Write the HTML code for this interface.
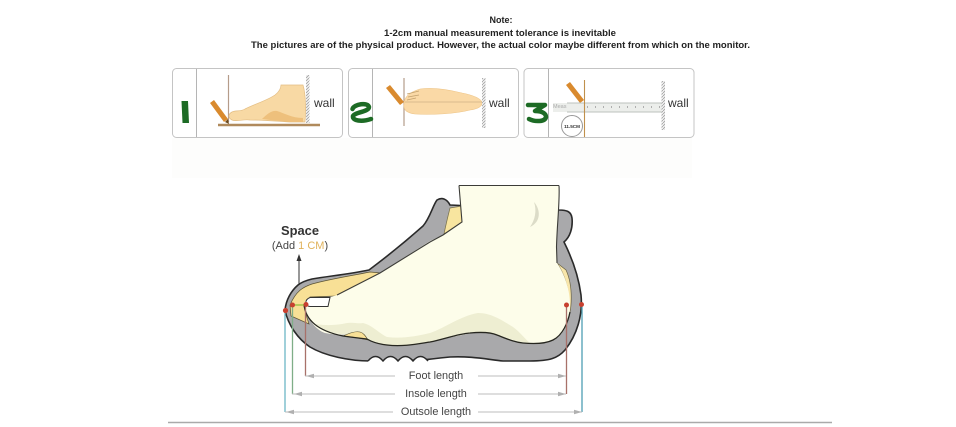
<!DOCTYPE html>
<html><head><meta charset="utf-8"><style>
html,body{margin:0;padding:0;background:#fff;width:956px;height:427px;overflow:hidden}
svg{display:block;filter:blur(.35px)}
text{font-family:"Liberation Sans",sans-serif}
</style></head><body>
<svg width="956" height="427" viewBox="0 0 956 427" xmlns="http://www.w3.org/2000/svg">
<defs>
<pattern id="h" width="3" height="3" patternUnits="userSpaceOnUse">
<rect width="3" height="3" fill="#efefef"/>
<path d="M0 3L3 0" stroke="#999" stroke-width=".7"/>
</pattern>
</defs>
<rect x="172" y="138" width="520" height="40" fill="#fdfdfc"/>
<g font-weight="bold" font-size="9.3" fill="#222" text-anchor="middle">
<text x="501" y="23" textLength="23" lengthAdjust="spacingAndGlyphs">Note:</text>
<text x="500" y="36" textLength="232" lengthAdjust="spacingAndGlyphs">1-2cm manual measurement tolerance is inevitable</text>
<text x="500.5" y="48" textLength="499" lengthAdjust="spacingAndGlyphs">The pictures are of the physical product. However, the actual color maybe different from which on the monitor.</text>
</g>

<!-- panels -->
<g fill="#fff" stroke="#c4c4c4" stroke-width="1">
<rect x="172.5" y="68.5" width="170" height="69" rx="4"/>
<rect x="348.5" y="68.5" width="170" height="69" rx="4"/>
<rect x="524" y="68.5" width="170" height="69" rx="4"/>
</g>
<g stroke="#b5b5b5"><path d="M196.5 69V137M372.5 69V137M548.5 69V137"/></g>

<!-- panel 1 -->
<path d="M181.500 101h6.500l1 22h-6.500z" fill="#1d6b25"/>
<path d="M228.500 75V122" stroke="#b59c8a" stroke-width="1.2"/>
<path d="M218 125H320" stroke="#b08a5c" stroke-width="2.6"/>
<path d="M210 103l4-3 14 19-4 3z" fill="#d98a2e"/>
<path d="M225 122l3-3 1 5z" fill="#6b4a1e"/>
<path d="M281 85H303C306 95 306 112 305 122H290C275 121 262 120 250 120C243 119 236 122 232 120C228 118 228 114 232 112C236 110 240 112 245 109C255 104 268 100 275 95C279 92 281 88 281 85z" fill="#f8d9a4" stroke="#e3bd83" stroke-width=".7"/>
<path d="M262 119C267 114 272 110 277 111C284 113 292 118 303 118V122H290C280 121 270 120 262 119z" fill="#eec07c"/>
<rect x="306" y="75" width="3.500" height="48" fill="url(#h)"/>
<text x="314" y="107" font-size="12" fill="#333">wall</text>

<!-- panel 2 -->
<path d="M352.500 109C354 104 368 102 369 107C369 112 355 112 353 116C352 121 362 122 371 119" fill="none" stroke="#1d6b25" stroke-width="4.500" stroke-linecap="round" stroke-linejoin="round"/>
<path d="M404 78V126" stroke="#b59c8a" stroke-width="1.2"/>
<path d="M386 88l4-3 14 17-4 3z" fill="#d98a2e"/>
<path d="M404 104C404 97 410 92 420 89C435 87 450 90 462 93C472 95 480 98 482 102C483 106 478 109 470 110C455 114 430 115 415 114C407 113 403 110 404 104z" fill="#fad9a6" stroke="#eec68a" stroke-width=".6"/>
<path d="M405 102H482" stroke="#d0b184" stroke-width=".8"/>
<path d="M408 97l11-2M407 100l9-2M407 94l12-3" stroke="#c2a06d" stroke-width=".8"/>
<rect x="482" y="78" width="3.500" height="50" fill="url(#h)"/>
<text x="489" y="107" font-size="12" fill="#333">wall</text>

<!-- panel 3 -->
<path d="M528 105H545L535 111C543 111 546 114 546 117C545 122 535 122 529 119" fill="none" stroke="#1d6b25" stroke-width="4.500" stroke-linecap="round" stroke-linejoin="round"/>
<path d="M566 85l4-3 14 18-4 3z" fill="#d98a2e"/>
<rect x="553" y="103" width="110" height="9" fill="#eceeeb"/>
<path d="M567 103H663M567 112H663" stroke="#bcc2bc" stroke-width="1"/>
<path d="M587 107H660" stroke="#999" stroke-width="1.500" stroke-dasharray="1 7"/>
<text x="553" y="108" font-size="5.500" fill="#aaa">Meas</text>
<path d="M584.500 80V137" stroke="#c0904c" stroke-width="1.100"/>
<circle cx="572" cy="126" r="10.500" fill="#fff" stroke="#999"/>
<text x="572" y="128" font-size="4.600" font-weight="bold" fill="#333" text-anchor="middle">11.5CM</text>
<rect x="661.500" y="81" width="3.500" height="49" fill="url(#h)"/>
<text x="668" y="107" font-size="12" fill="#333">wall</text>

<!-- space label -->
<text x="300" y="235" font-size="12.500" font-weight="bold" fill="#333" text-anchor="middle" textLength="38" lengthAdjust="spacingAndGlyphs">Space</text>
<text x="300" y="249" font-size="11" fill="#444" text-anchor="middle">(Add <tspan fill="#e0b25a">1 CM</tspan>)</text>
<path d="M299 257V302" stroke="#444" stroke-width="1.100"/>
<path d="M296.500 261L299 254L301.500 261z" fill="#333"/>

<!-- shoe gray -->
<path d="M285 310C286 300 291 291 298 285C303 281 308 280 312 279C330 276 350 274 369 270C385 258 405 242 423 226C430 218 433 205 437 200C442 197 447 199 450 205L559 210C566 210 571 211 572 218C573 228 570 237 564 242C569 252 578 272 581 295C583 315 577 335 565 350C558 358 550 361 530 361L503 361C485 359 470 356 450 357C430 359 425 360 420 360L370 361C350 361 325 356 310 347C298 339 288 325 285 310z" fill="#a9a9ab" stroke="#2a2a2a" stroke-width="1.600"/>
<!-- sole waves -->
<path d="M368 361q7.500-9 15 0q7.500-9 15 0q7.500-9 15 0q7.500-9 15 0L432 363H368z" fill="#fff"/>
<path d="M368 361q7.500-9 15 0q7.500-9 15 0q7.500-9 15 0q7.500-9 15 0" fill="none" stroke="#2a2a2a" stroke-width="1.400"/>
<!-- insole yellow -->
<path d="M290 305C296 291 303 287 312 284C330 279 350 276 370 272L381 273L337 296L310 297L304 306C305 312 307 318 309 324L291 316z" fill="#f8e096" stroke="#5b5333" stroke-width=".7"/>
<path d="M450 208L462 206V222L444 234C446 224 448 216 450 208z" fill="#f8e59f" stroke="#77704a" stroke-width=".7"/>
<path d="M557 263C563 272 568 285 569 300C570 310 568 318 566 322C573 312 573 285 566 270z" fill="#f8e6aa" stroke="#6a6344" stroke-width=".7"/>
<!-- foot -->
<path d="M459 185.500H559C560 200 557 225 556.500 247L557 263C565 275 570 290 570 305C570 320 565 335 553 340C545 344 533 344 523 343C510 341 505 336 497 335C485 332 475 332 462 335C450 337 437 341 425 343C410 346 395 346 387 345C378 343 372 341 367 339L352 334C345 335 335 335 325 333C315 330 305 315 304 305C305 300 308 297 311 297L330 297L338 295L380 273L430 241L443 235L462 222z" fill="#fdfdea"/>
<path d="M559 185.500C560 200 557 225 556.500 247L557 263M459 185.500H559M459 185.500L462 222L443 235L430 242L380 273L337 295" fill="none" stroke="#3c3c38" stroke-width="1.100"/>
<path d="M316 324C328 326 338 325 347 323C353 322 358 324 363 323C372 325 380 334 387 337C402 339 417 336 430 333C445 328 460 316 478 313C492 313 503 321 513 327C520 332 525 339 530 343C510 341 505 336 497 335C485 332 475 332 462 335C450 337 437 341 425 343C410 346 395 346 387 345C378 343 372 341 367 339L352 334C340 335 325 333 316 324z" fill="#eeeed2"/>
<path d="M343 336C350 333 355 331 360 332C364 333 366 337 368 340L352 337z" fill="#f8e096" stroke="#5b5333" stroke-width=".6"/>
<path d="M304 304C305 316 313 330 343 336C350 337 358 338 367 339C372 342 378 344 387 345C402 347 417 344 430 342C445 339 457 334 470 333C480 332 490 332 497 335C505 338 513 342 523 343C534 344 545 344 553 340C563 335 568 322 570 312" fill="none" stroke="#26261f" stroke-width="1.300"/>
<!-- heel crease -->
<path d="M534 202C541 210 541 222 530 227C535 220 537 211 534 202z" fill="#dcdcc8"/>
<!-- toe -->
<path d="M310 297.500H330L328 306.500H310C305 306 304 300 310 297.500z" fill="#fff" stroke="#333" stroke-width="1"/>
<!-- measuring lines -->
<path d="M285 310V412" fill="none" stroke="#6cb6c6" stroke-width="1.300"/>
<path d="M292.500 305V394" fill="none" stroke="#7fae88" stroke-width="1.300"/>
<path d="M305.500 305V376" fill="none" stroke="#a8716a" stroke-width="1.300"/>
<path d="M566.500 305V394" fill="none" stroke="#a8716a" stroke-width="1.300"/>
<path d="M582 305V412" fill="none" stroke="#4f9fb3" stroke-width="1.300"/>
<path d="M305 376H395M292 394H395M285 412H393M478 376H566M478 394H566M478 412H582" stroke="#bdbdbd" stroke-width="1"/>
<g fill="#b0b0b0">
<path d="M306 376l8-2.200v4.400zM294 394l8-2.200v4.400zM286 412l8-2.200v4.400zM566 376l-8-2.200v4.400zM566 394l-8-2.200v4.400zM582 412l-8-2.200v4.400z"/>
</g>
<path d="M293 305H306" stroke="#8bbd3a" stroke-width="1.200"/>
<g fill="#c8402f"><circle cx="285.500" cy="310.500" r="2.600"/><circle cx="292.500" cy="305" r="2.500"/><circle cx="306" cy="304.500" r="2.500"/><circle cx="566.500" cy="305" r="2.500"/><circle cx="581.500" cy="304.500" r="2.500"/></g>
<g font-size="10.900" fill="#444" text-anchor="middle">
<text x="436" y="379">Foot length</text>
<text x="436" y="397">Insole length</text>
<text x="436" y="415">Outsole length</text>
</g>
<path d="M168 422.500H832" stroke="#aaa" stroke-width="1.400"/>
</svg>
</body></html>
